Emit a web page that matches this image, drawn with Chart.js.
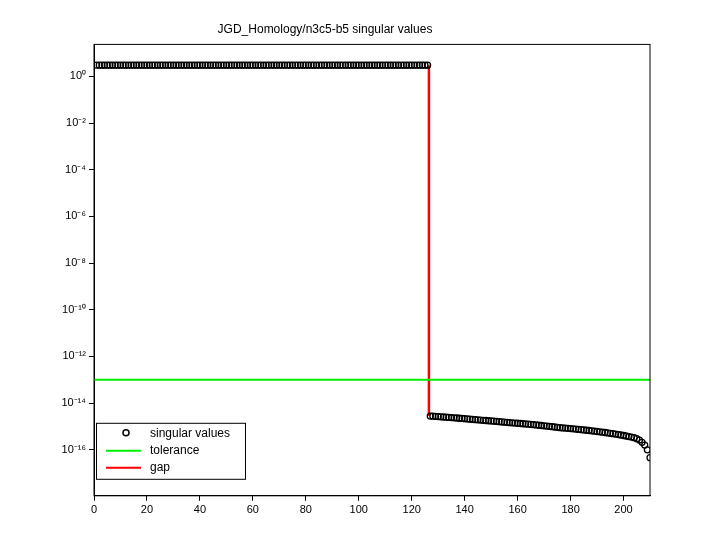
<!DOCTYPE html>
<html lang="en">
<head>
<meta charset="UTF-8">
<title>singular values</title>
<script src="https://cdn.jsdelivr.net/npm/chart.js"></script>
<style>
  body { margin: 0; background: #fff; }
  #wrap { width: 720px; height: 540px; }
</style>
</head>
<body>
<div id="wrap"><canvas id="c" width="720" height="540"></canvas></div>
<script>
// top group: indices 1..126 all about 3
const highCount = 126;
const highValue = 3.0;
// lower group: indices 127..210 (units of 1e-15)
const lowValues = [
  2.8, 2.75, 2.7, 2.65, 2.6, 2.55, 2.5, 2.45, 2.4, 2.35,
  2.3, 2.25, 2.2, 2.15, 2.1, 2.05, 2.0, 1.96, 1.92, 1.88,
  1.84, 1.8, 1.76, 1.72, 1.68, 1.64, 1.6, 1.56, 1.52, 1.49,
  1.46, 1.43, 1.4, 1.37, 1.34, 1.31, 1.28, 1.25, 1.22, 1.19,
  1.16, 1.13, 1.1, 1.07, 1.04, 1.01, 0.98, 0.95, 0.92, 0.89,
  0.87, 0.85, 0.83, 0.81, 0.79, 0.77, 0.75, 0.73, 0.71, 0.69,
  0.67, 0.65, 0.63, 0.61, 0.59, 0.57, 0.55, 0.53, 0.51, 0.49,
  0.47, 0.45, 0.43, 0.41, 0.39, 0.37, 0.35, 0.33, 0.30, 0.26,
  0.21, 0.16, 0.10, 0.046
];
const tolerance = 1e-13;
const gapX = 126.5;
const xTicks = [0, 20, 40, 60, 80, 100, 120, 140, 160, 180, 200];
const yTickExps = [0, -2, -4, -6, -8, -10, -12, -14, -16];

const sv = [];
for (let i = 1; i <= highCount; i++) sv.push({ x: i, y: highValue });
lowValues.forEach((v, k) => sv.push({ x: highCount + 1 + k, y: v * 1e-15 }));

const sup = { '-': '⁻', '0': '⁰', '1': '¹', '2': '²', '3': '³', '4': '⁴', '5': '⁵', '6': '⁶', '7': '⁷', '8': '⁸', '9': '⁹' };
const toSup = s => String(s).split('').map(c => sup[c]).join('');

const legendBox = {
  id: 'legendBox',
  afterDraw(chart) {
    const ctx = chart.ctx;
    const a = chart.chartArea;
    const x0 = a.left + 2, y0 = a.bottom - 73, w = 149, h = 56;
    ctx.save();
    ctx.fillStyle = '#fff';
    ctx.fillRect(x0, y0, w, h);
    ctx.strokeStyle = '#000';
    ctx.lineWidth = 1;
    ctx.strokeRect(x0 + 0.5, y0 + 0.5, w, h);
    ctx.font = '12px "Liberation Sans", Arial, sans-serif';
    ctx.textBaseline = 'middle';
    ctx.fillStyle = '#000';
    const rows = [['singular values', 'pt'], ['tolerance', '#00ee00'], ['gap', '#ff0000']];
    rows.forEach((r, i) => {
      const cy = y0 + 11 + i * 17;
      if (r[1] === 'pt') {
        ctx.beginPath();
        ctx.arc(x0 + 30, cy - 1, 3, 0, Math.PI * 2);
        ctx.strokeStyle = '#000';
        ctx.lineWidth = 1.5;
        ctx.stroke();
      } else {
        ctx.beginPath();
        ctx.moveTo(x0 + 10, cy);
        ctx.lineTo(x0 + 45, cy);
        ctx.strokeStyle = r[1];
        ctx.lineWidth = 2;
        ctx.stroke();
      }
      ctx.fillStyle = '#000';
      ctx.fillText(r[0], x0 + 54, cy);
    });
    ctx.restore();
  }
};

new Chart(document.getElementById('c'), {
  type: 'scatter',
  data: {
    datasets: [
      {
        label: 'singular values', data: sv, showLine: false,
        pointStyle: 'circle', pointRadius: 3, borderColor: '#000', borderWidth: 1.3,
        backgroundColor: 'rgba(0,0,0,0)'
      },
      {
        label: 'tolerance', data: [{ x: 0, y: tolerance }, { x: 210, y: tolerance }],
        showLine: true, pointRadius: 0, borderColor: '#00ee00', borderWidth: 2
      },
      {
        label: 'gap', data: [{ x: gapX, y: highValue }, { x: gapX, y: lowValues[0] * 1e-15 }],
        showLine: true, pointRadius: 0, borderColor: '#ff0000', borderWidth: 2.5
      }
    ]
  },
  options: {
    responsive: false,
    animation: false,
    layout: { padding: { left: 0, right: 70, top: 0, bottom: 20 } },
    plugins: {
      legend: { display: false },
      tooltip: { enabled: false },
      title: {
        display: true, text: 'JGD_Homology/n3c5-b5 singular values',
        color: '#000', font: { family: '"Liberation Sans", Arial', size: 12, weight: 'normal' },
        padding: { top: 22, bottom: 8 }
      }
    },
    scales: {
      x: {
        type: 'linear', min: 0, max: 210,
        afterBuildTicks: s => { s.ticks = xTicks.map(v => ({ value: v })); },
        grid: { drawOnChartArea: false, color: '#000', tickLength: 5 },
        border: { color: '#000' },
        ticks: { color: '#000', font: { family: '"Liberation Sans", Arial', size: 11 }, maxRotation: 0 }
      },
      y: {
        type: 'logarithmic', min: 1.07e-18, max: 23.4,
        afterFit: s => { s.width = 94; },
        afterBuildTicks: s => { s.ticks = yTickExps.map(e => ({ value: Math.pow(10, e) })); },
        grid: { drawOnChartArea: false, color: '#000', tickLength: 5 },
        border: { color: '#000' },
        ticks: {
          color: '#000', font: { family: '"Liberation Sans", Arial', size: 11 },
          callback: v => '10' + toSup(Math.round(Math.log10(v)))
        }
      }
    }
  },
  plugins: [legendBox, {
    id: 'frame',
    afterDraw(chart) {
      const a = chart.chartArea, ctx = chart.ctx;
      ctx.save();
      ctx.strokeStyle = '#000';
      ctx.lineWidth = 1;
      ctx.strokeRect(a.left, a.top, a.right - a.left, a.bottom - a.top);
      ctx.restore();
    }
  }]
});
</script>
</body>
</html>
